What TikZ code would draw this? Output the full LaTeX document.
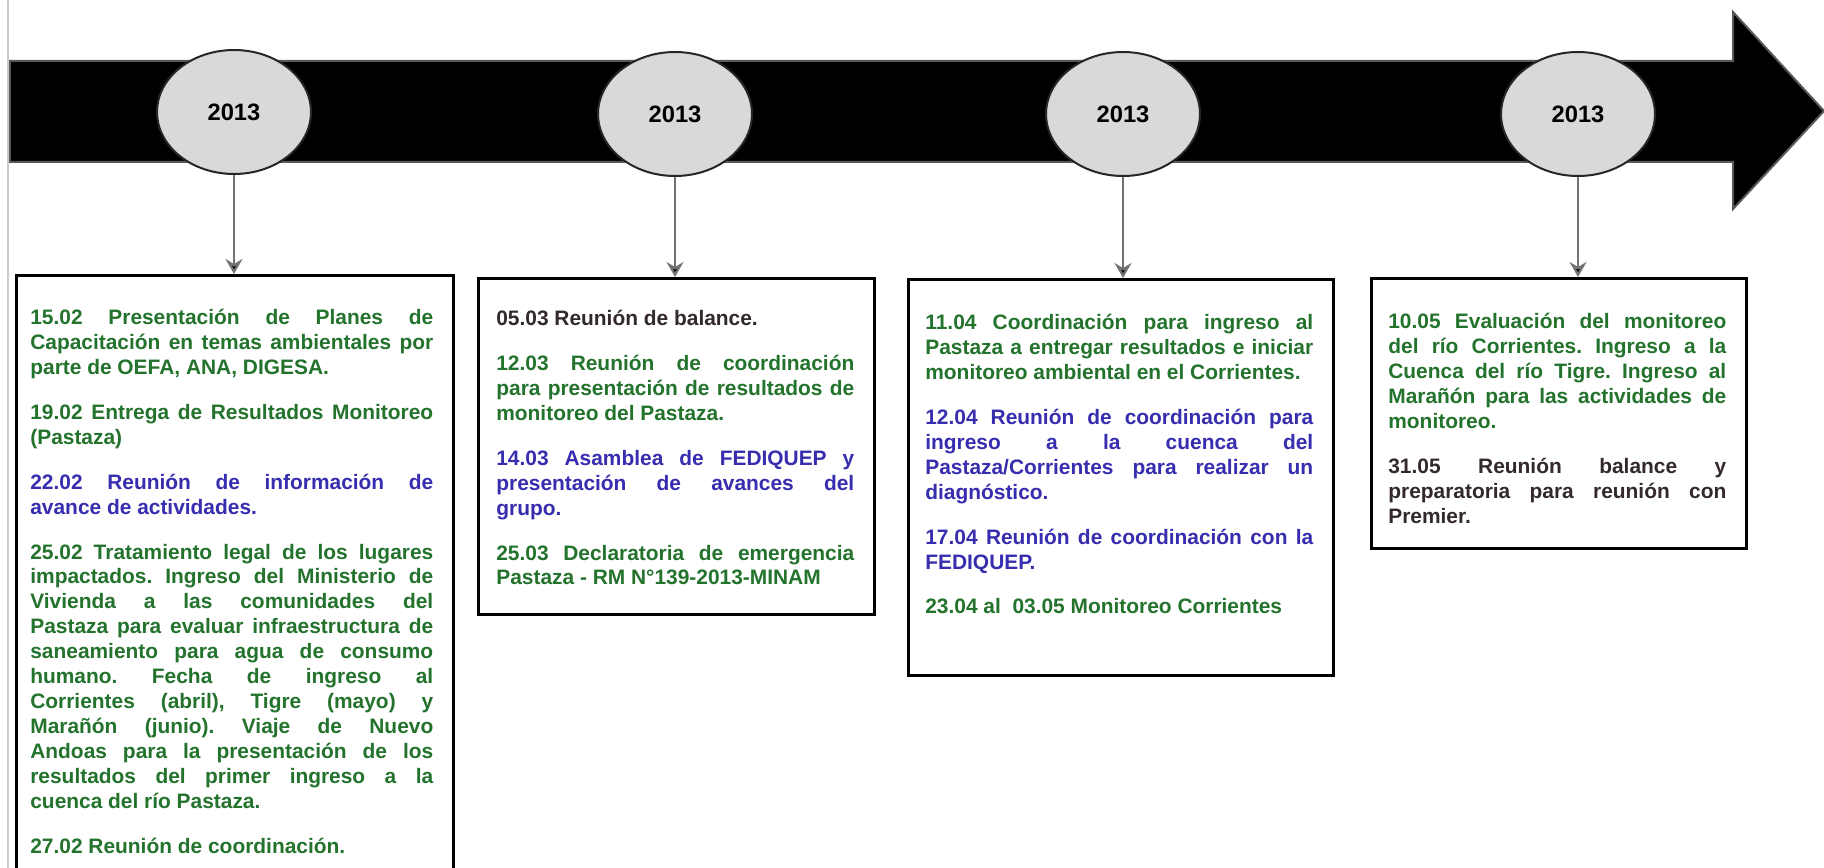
\documentclass[tikz,border=0pt]{standalone}
\usepackage{fontspec}
\setmainfont{Liberation Sans}
\usetikzlibrary{shapes.geometric,arrows.meta}
\definecolor{notegreen}{RGB}{35,115,45}
\definecolor{noteblue}{RGB}{55,45,175}
\definecolor{notedark}{RGB}{50,40,45}
\definecolor{yearfill}{RGB}{217,217,217}
\newcommand\notefont{\fontsize{11.9}{14.2}\selectfont\bfseries\frenchspacing\parskip=11.3pt\hyphenpenalty=10000\exhyphenpenalty=10000}
\newcommand\gr[1]{{\color{notegreen}#1}}
\newcommand\bl[1]{{\color{noteblue}#1}}
\newcommand\dk[1]{{\color{notedark}#1}}
\tikzset{
  year/.style={ellipse,draw=black!85,line width=0.04cm,fill=yearfill,
    minimum width=3.08cm,minimum height=2.48cm,inner sep=0pt,
    font=\fontsize{13.5}{16}\selectfont\bfseries},
  card/.style={draw=black,line width=0.06cm,fill=white,anchor=north west,inner sep=0pt},
  notes/.style={anchor=north west,inner sep=0pt,align=justify,font=\notefont},
  link/.style={draw=black!55,line width=0.045cm,
    -{Stealth[length=0.3cm,width=0.34cm,inset=0.1cm,fill=black]}}
}
\begin{document}
\begin{tikzpicture}[x=0.02cm,y=-0.02cm]
  \path[use as bounding box,clip] (0,0) rectangle (1824,868);
  \draw[black!20,line width=0.06cm] (8,0) -- (8,868);
  \filldraw[fill=black,draw=black!65,line width=0.04cm]
    (10,61) -- (1733,61) -- (1733,12) -- (1824,111) -- (1733,209) -- (1733,162) -- (10,162) -- cycle;

  \node[year] (y1) at (234,112) {2013};
  \node[year] (y2) at (675,114) {\raisebox{-2pt}{2013}};
  \node[year] (y3) at (1123,114) {\raisebox{-2pt}{2013}};
  \node[year] (y4) at (1578,114) {\raisebox{-2pt}{2013}};

  \node[card,minimum width=8.74cm,minimum height=12.52cm] (b1) at (15,274) {};
  \node[card,minimum width=7.92cm,minimum height=6.72cm] (b2) at (477,277) {};
  \node[card,minimum width=8.5cm,minimum height=7.92cm] (b3) at (907,278) {};
  \node[card,minimum width=7.5cm,minimum height=5.4cm] (b4) at (1370,277) {};

  \draw[link] (y1.south) -- (y1.south |- b1.north);
  \draw[link] (y2.south) -- (y2.south |- b2.north);
  \draw[link] (y3.south) -- (y3.south |- b3.north);
  \draw[link] (y4.south) -- (y4.south |- b4.north);

  \node[notes,text width=8.06cm] (n1) at (30,307) {\strut
    \gr{15.02 Presentación de Planes de\linebreak Capacitación en temas ambientales por\linebreak parte de OEFA, ANA, DIGESA.}\par
    \gr{19.02 Entrega de Resultados Monitoreo\linebreak (Pastaza)}\par
    \bl{22.02 Reunión de información de\linebreak avance de actividades.}\par
    \gr{25.02 Tratamiento legal de los lugares\linebreak impactados. Ingreso del Ministerio de\linebreak Vivienda a las comunidades del\linebreak Pastaza para evaluar infraestructura de\linebreak saneamiento para agua de consumo\linebreak humano. Fecha de ingreso al\linebreak Corrientes (abril), Tigre (mayo) y\linebreak Marañón (junio). Viaje de Nuevo\linebreak Andoas para la presentación de los\linebreak resultados del primer ingreso a la\linebreak cuenca del río Pastaza.}\par
    \gr{27.02 Reunión de coordinación.}};

  \node[notes,text width=7.16cm] (n2) at (496,308) {\strut
    \dk{05.03 Reunión de balance.}\par
    \gr{12.03 Reunión de coordinación\linebreak para presentación de resultados de\linebreak monitoreo del Pastaza.}\par
    \bl{14.03 Asamblea de FEDIQUEP y\linebreak presentación de avances del\linebreak grupo.}\par
    \gr{25.03 Declaratoria de emergencia\linebreak Pastaza - RM N°139-2013-MINAM}};

  \node[notes,text width=7.76cm] (n3) at (925,312) {\strut
    \gr{11.04 Coordinación para ingreso al\linebreak Pastaza a entregar resultados e iniciar\linebreak monitoreo ambiental en el Corrientes.}\par
    \bl{12.04 Reunión de coordinación para\linebreak ingreso a la cuenca del\linebreak Pastaza/Corrientes para realizar un\linebreak diagnóstico.}\par
    \bl{17.04 Reunión de coordinación con la\linebreak FEDIQUEP.}\par
    \gr{23.04 al\ \ 03.05 Monitoreo Corrientes}};

  \node[notes,text width=6.76cm] (n4) at (1388,311) {\strut
    \gr{10.05 Evaluación del monitoreo\linebreak del río Corrientes. Ingreso a la\linebreak Cuenca del río Tigre. Ingreso al\linebreak Marañón para las actividades de\linebreak monitoreo.}\par
    \dk{31.05 Reunión balance y\linebreak preparatoria para reunión con\linebreak Premier.}};
\end{tikzpicture}
\end{document}
